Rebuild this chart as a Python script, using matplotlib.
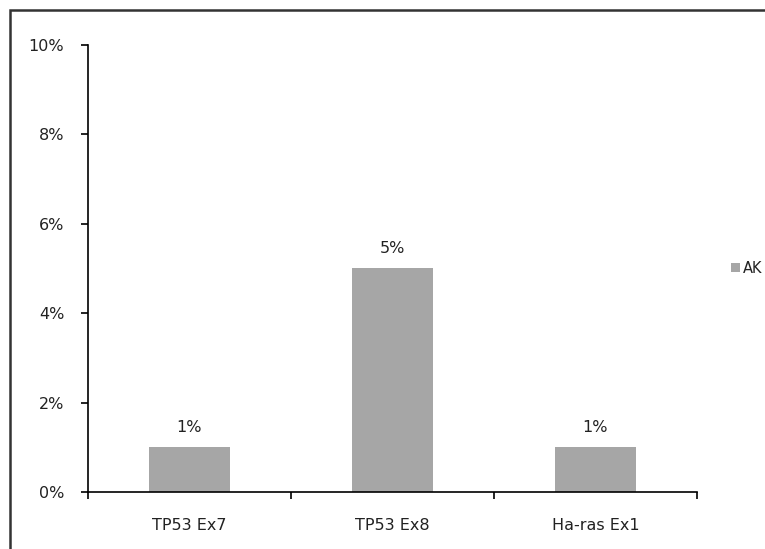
import matplotlib
matplotlib.use("Agg")
import matplotlib.pyplot as plt
from matplotlib.patches import Rectangle
from matplotlib.ticker import FuncFormatter, FixedLocator

categories = ["TP53 Ex7", "TP53 Ex8", "Ha-ras Ex1"]
ak_values = [0.01, 0.05, 0.01]
bar_labels = ["1%", "5%", "1%"]
series_name = "AK"

plt.rcParams['font.family'] = ['DejaVu Sans']
fs = 11.5

fig = plt.figure(figsize=(7.65, 5.49), dpi=100)
ax = fig.add_axes([0.115, 0.104, 0.796, 0.814])

# ramka wokol wykresu (widoczna tylko gora i lewa strona)
fig.patches.append(Rectangle((10/765, -0.1), 1.2, 1 - 10/549 + 0.1, transform=fig.transFigure,
                             fill=False, edgecolor='#333333', linewidth=1.8))

x = list(range(len(categories)))
bars = ax.bar(x, ak_values, width=0.4, color='#a6a6a6', label=series_name)
for b, lab in zip(bars, bar_labels):
    ax.text(b.get_x() + b.get_width()/2, b.get_height() + 0.0028, lab,
            ha='center', va='bottom', fontsize=fs, color='#222222')

ax.set_xlim(-0.5, 2.5)
ax.set_ylim(0, 0.10)
ax.set_yticks([0, 0.02, 0.04, 0.06, 0.08, 0.10])
ax.yaxis.set_major_formatter(FuncFormatter(lambda v, p: f"{v*100:.0f}%"))
ax.set_xticks(x)
ax.set_xticklabels(categories)
ax.xaxis.set_minor_locator(FixedLocator([-0.5, 0.5, 1.5, 2.5]))
ax.tick_params(axis='x', which='major', length=0, pad=19, labelsize=fs, labelcolor='#222222')
ax.tick_params(axis='x', which='minor', length=5, width=1.2, direction='out')
ax.tick_params(axis='y', length=5, width=1.2, direction='out', pad=12, labelsize=fs, labelcolor='#222222')

for s in ['top', 'right']:
    ax.spines[s].set_visible(False)
for s in ['left', 'bottom']:
    ax.spines[s].set_linewidth(1.2)

leg = ax.legend(loc='center left', bbox_to_anchor=(1.046, 0.5), frameon=False, fontsize=10.5,
                handlelength=0.6, handleheight=0.6, handletextpad=0.25, borderaxespad=0)
for t in leg.get_texts():
    t.set_color('#222222')

fig.savefig("out.png", dpi=100)
